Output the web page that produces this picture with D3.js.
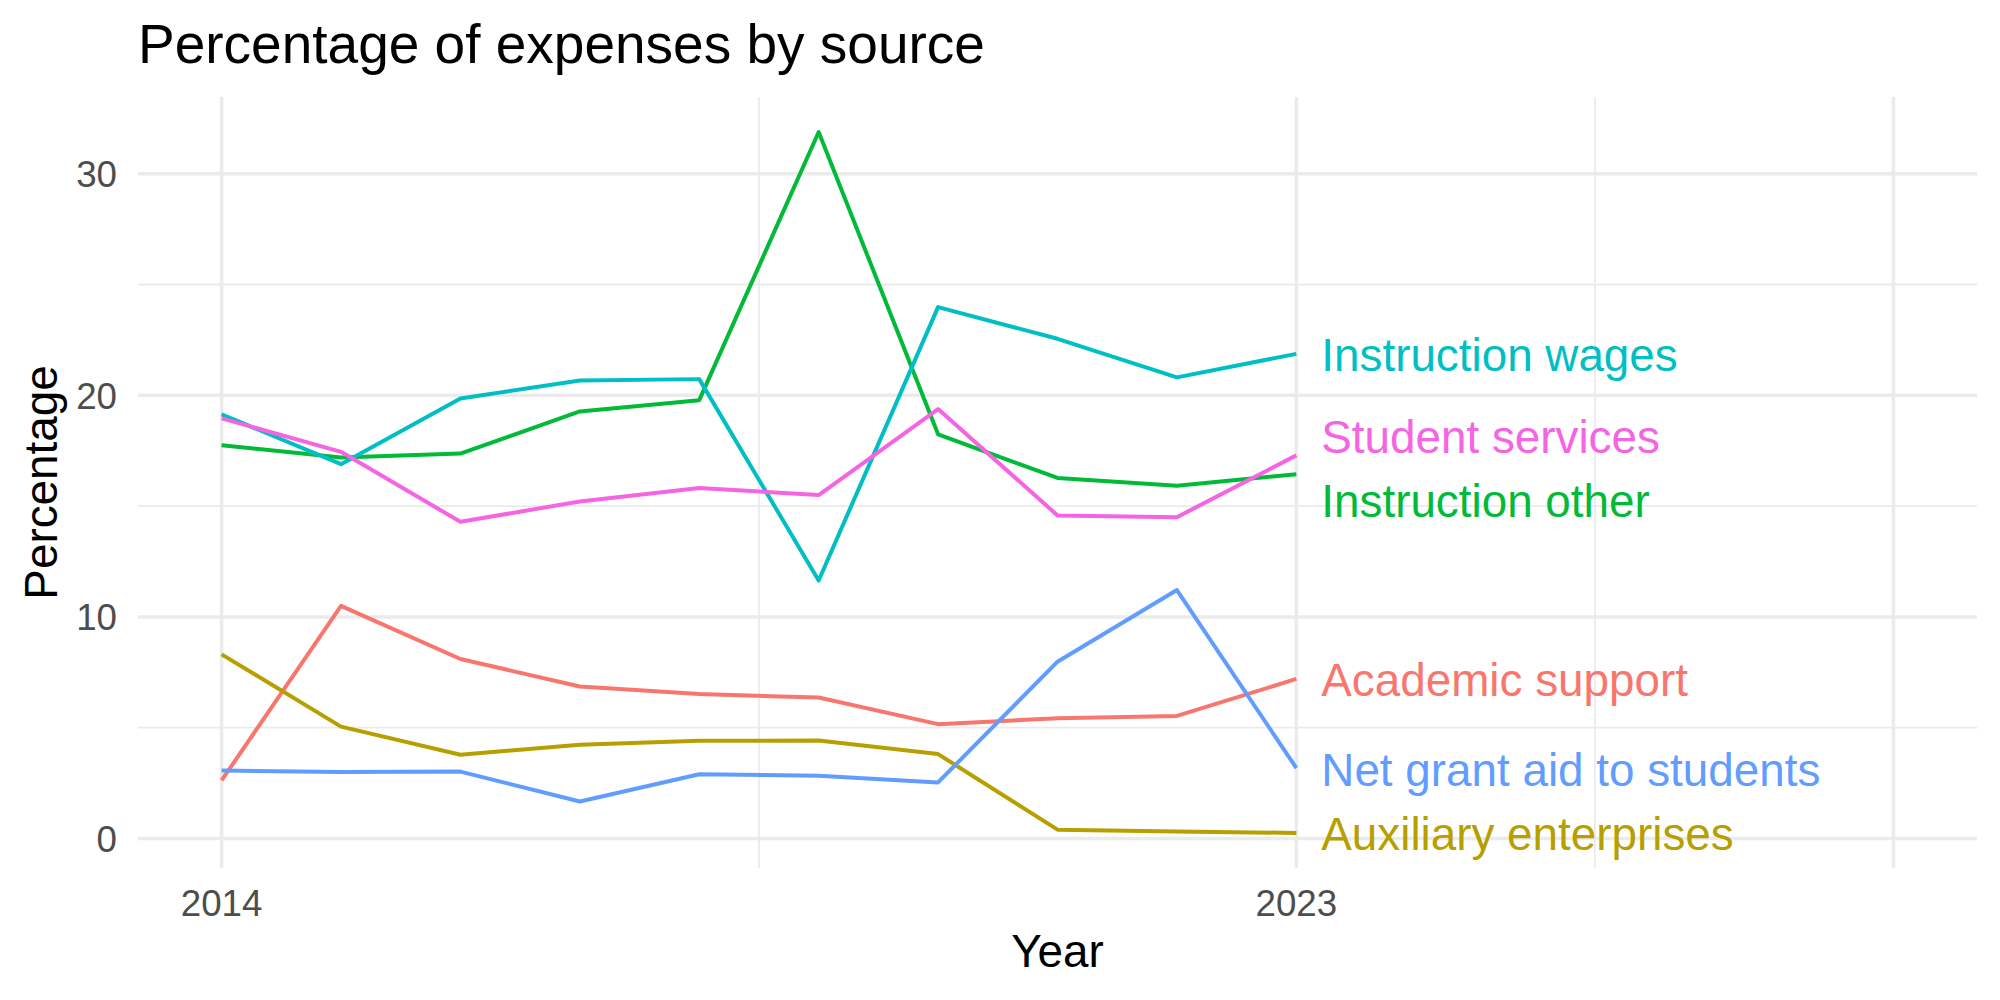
<!DOCTYPE html>
<html>
<head>
<meta charset="utf-8">
<script src="https://cdn.jsdelivr.net/npm/d3@7"></script>
<style>
  html, body { margin: 0; padding: 0; background: #fff; }
  svg { display: block; }
  text { font-family: "Liberation Sans", Arial, Helvetica, sans-serif; }
</style>
</head>
<body>
<svg id="chart" width="2000" height="1000"></svg>
<script>
// ---- data ----
const years = [2014, 2015, 2016, 2017, 2018, 2019, 2020, 2021, 2022, 2023];
const seriesNames = ["Academic support", "Auxiliary enterprises", "Instruction other",
                     "Instruction wages", "Net grant aid to students", "Student services"];
const academicSupport      = [2.62, 10.50, 8.10, 6.86, 6.52, 6.36, 5.16, 5.43, 5.53, 7.20];
const auxiliaryEnterprises = [8.31, 5.05, 3.78, 4.23, 4.41, 4.42, 3.81, 0.40, 0.32, 0.25];
const instructionOther     = [17.75, 17.19, 17.37, 19.27, 19.78, 31.88, 18.24, 16.27, 15.92, 16.44];
const instructionWages     = [19.14, 16.89, 19.86, 20.67, 20.73, 11.64, 23.98, 22.55, 20.81, 21.87];
const netGrantAid          = [3.07, 3.00, 3.02, 1.67, 2.90, 2.83, 2.53, 7.98, 11.21, 3.18];
const studentServices      = [18.96, 17.45, 14.29, 15.21, 15.82, 15.50, 19.38, 14.58, 14.50, 17.29];
// repelled label positions (data units) at the last year
const labelValues = [7.17, 0.22, 15.27, 21.85, 3.13, 18.14];
const xTickValues = [2014, 2023];
const xTickLabels = ["2014", "2023"];
const xMajorGrid = [2014, 2023, 2028];
const xMinorGrid = [2018.5, 2025.5];
const yTickValues = [0, 10, 20, 30];
const yMinorGrid = [5, 15, 25];
const xLimits = [2014, 2028];

const seriesValues = [academicSupport, auxiliaryEnterprises, instructionOther,
                      instructionWages, netGrantAid, studentServices];
const colors = ["#F8766D", "#B79F00", "#00BA38", "#00BFC4", "#619CFF", "#F564E3"];

// ---- layout ----
const panel = { left: 138, right: 1977, top: 97, bottom: 868 };
const svg = d3.select("#chart");

const allVals = seriesValues.flat();
const yMin = d3.min(allVals), yMax = d3.max(allVals);
const yPad = (yMax - yMin) * 0.05;
const xPad = (xLimits[1] - xLimits[0]) * 0.05;

const x = d3.scaleLinear().domain([xLimits[0] - xPad, xLimits[1] + xPad]).range([panel.left, panel.right]);
const y = d3.scaleLinear().domain([yMin - yPad, yMax + yPad]).range([panel.bottom, panel.top]);

const grid = svg.append("g");
// minor grid
grid.selectAll("line.ymin").data(yMinorGrid).enter().append("line")
  .attr("x1", panel.left).attr("x2", panel.right)
  .attr("y1", d => y(d)).attr("y2", d => y(d))
  .attr("stroke", "#EBEBEB").attr("stroke-width", 1.8);
grid.selectAll("line.xmin").data(xMinorGrid).enter().append("line")
  .attr("y1", panel.top).attr("y2", panel.bottom)
  .attr("x1", d => x(d)).attr("x2", d => x(d))
  .attr("stroke", "#EBEBEB").attr("stroke-width", 1.8);
// major grid
grid.selectAll("line.ymaj").data(yTickValues).enter().append("line")
  .attr("x1", panel.left).attr("x2", panel.right)
  .attr("y1", d => y(d)).attr("y2", d => y(d))
  .attr("stroke", "#EBEBEB").attr("stroke-width", 3.5);
grid.selectAll("line.xmaj").data(xMajorGrid).enter().append("line")
  .attr("y1", panel.top).attr("y2", panel.bottom)
  .attr("x1", d => x(d)).attr("x2", d => x(d))
  .attr("stroke", "#EBEBEB").attr("stroke-width", 3.5);

// lines
const line = d3.line().x((d, i) => x(years[i])).y(d => y(d));
svg.append("g").selectAll("path").data(seriesValues).enter().append("path")
  .attr("d", d => line(d))
  .attr("fill", "none")
  .attr("stroke", (d, i) => colors[i])
  .attr("stroke-width", 4)
  .attr("stroke-linejoin", "round");

// labels
const lastYear = years[years.length - 1];
svg.append("g").selectAll("text").data(seriesNames).enter().append("text")
  .attr("x", x(lastYear) + 25)
  .attr("y", (d, i) => y(labelValues[i]))
  .attr("dy", "0.36em")
  .attr("font-size", 45.8)
  .attr("fill", (d, i) => colors[i])
  .text(d => d);

// y axis tick labels
svg.append("g").selectAll("text").data(yTickValues).enter().append("text")
  .attr("x", 117).attr("y", d => y(d)).attr("dy", "0.36em")
  .attr("text-anchor", "end").attr("font-size", 36.7).attr("fill", "#4D4D4D")
  .text(d => d3.format("d")(d));

// x axis tick labels
svg.append("g").selectAll("text").data(xTickValues).enter().append("text")
  .attr("x", d => x(d)).attr("y", 916)
  .attr("text-anchor", "middle").attr("font-size", 36.7).attr("fill", "#4D4D4D")
  .text((d, i) => xTickLabels[i]);

// axis titles
svg.append("text").attr("x", (panel.left + panel.right) / 2).attr("y", 967)
  .attr("text-anchor", "middle").attr("font-size", 45.8).attr("fill", "#000")
  .text("Year");
svg.append("text")
  .attr("transform", `translate(57, ${(panel.top + panel.bottom) / 2}) rotate(-90)`)
  .attr("text-anchor", "middle").attr("font-size", 45.8).attr("fill", "#000")
  .text("Percentage");

// title
svg.append("text").attr("x", panel.left).attr("y", 63)
  .attr("font-size", 55).attr("fill", "#000")
  .text("Percentage of expenses by source");
</script>
</body>
</html>
